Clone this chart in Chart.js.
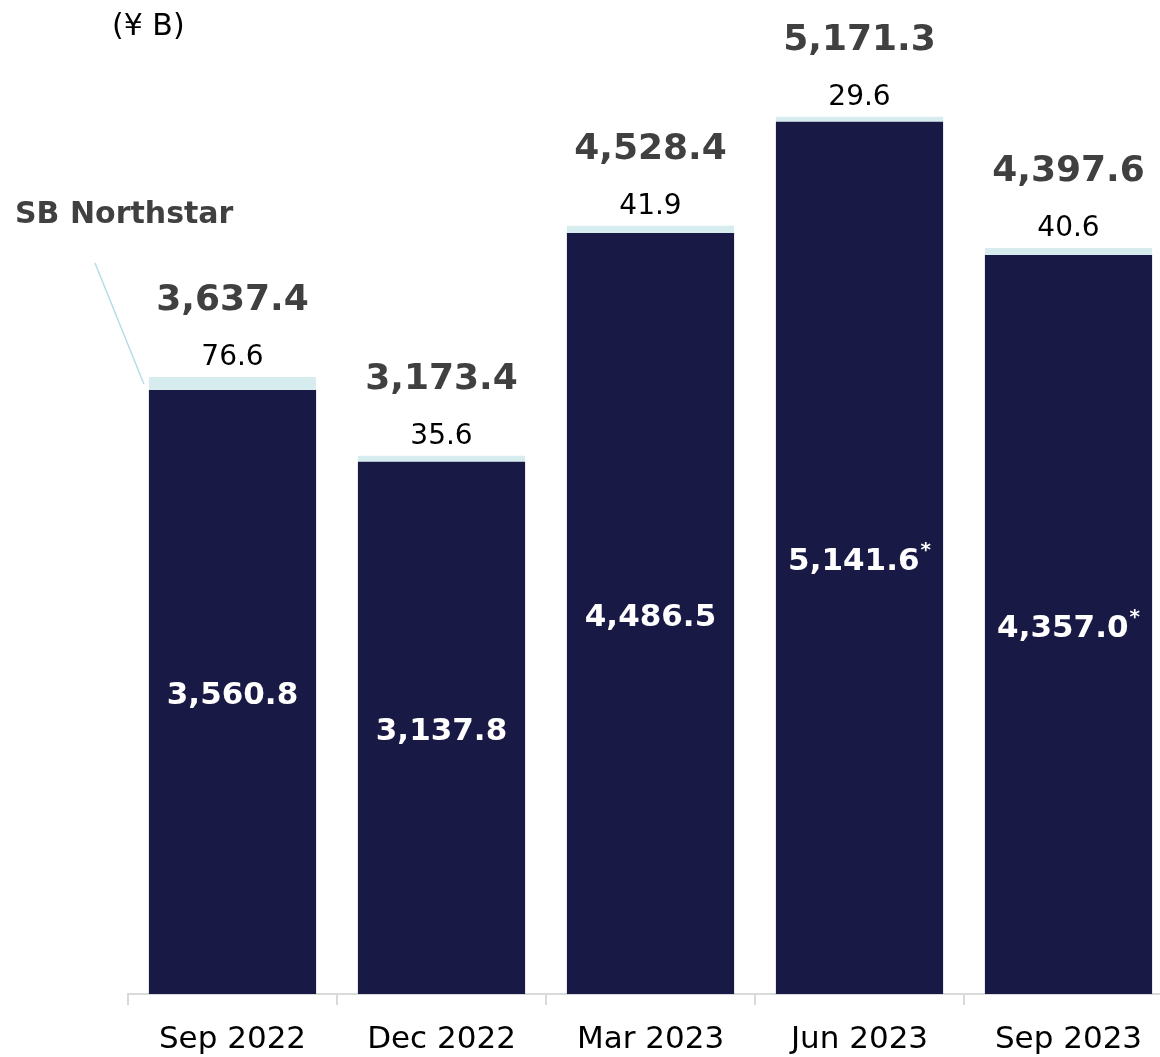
<!DOCTYPE html>
<html>
<head>
<meta charset="utf-8">
<script src="https://cdn.jsdelivr.net/npm/chart.js@4.4.0/dist/chart.umd.min.js"></script>
<style>
  html, body { margin: 0; padding: 0; background: #fff; overflow: hidden; }
  #wrap { position: relative; width: 1173px; height: 1057px; }
</style>
</head>
<body>
<div id="wrap"><canvas id="c" width="1173" height="1057"></canvas></div>
<script>
const categories = ['Sep 2022', 'Dec 2022', 'Mar 2023', 'Jun 2023', 'Sep 2023'];
const mainValues = [3560.8, 3137.8, 4486.5, 5141.6, 4357.0];
const northstarValues = [76.6, 35.6, 41.9, 29.6, 40.6];
const totalValues = [3637.4, 3173.4, 4528.4, 5171.3, 4397.6];
const mainNotes = ['', '', '', '*', '*'];
const unitLabel = '(¥ B)';
const seriesLabel = 'SB Northstar';

const FONT = '"DejaVu Sans", Verdana, sans-serif';
const DARK = '#191946';
const LIGHT = '#d6ecee';

function fmt(v) {
  return v.toLocaleString('en-US', { minimumFractionDigits: 1, maximumFractionDigits: 1 });
}

const labelPlugin = {
  id: 'labels',
  afterDatasetsDraw(chart) {
    const ctx = chart.ctx;
    const mainMeta = chart.getDatasetMeta(0);
    const nsMeta = chart.getDatasetMeta(1);
    ctx.save();
    ctx.textAlign = 'center';
    ctx.textBaseline = 'middle';
    categories.forEach((c, i) => {
      const mb = mainMeta.data[i];
      const nb = nsMeta.data[i];
      const x = mb.x;
      const top = nb.y;
      ctx.fillStyle = '#000';
      ctx.font = `28px ${FONT}`;
      ctx.fillText(fmt(northstarValues[i]), x, top - 19);
      ctx.fillStyle = '#404040';
      ctx.font = `bold 36px ${FONT}`;
      ctx.fillText(fmt(totalValues[i]), x, top - 76);
      const midY = (mb.y + mb.base) / 2 + 4;
      ctx.fillStyle = '#fff';
      ctx.font = `bold 31px ${FONT}`;
      const txt = fmt(mainValues[i]);
      const w = ctx.measureText(txt).width;
      let aw = 0;
      if (mainNotes[i]) {
        ctx.font = `bold 20px ${FONT}`;
        aw = ctx.measureText(mainNotes[i]).width + 1;
      }
      const startX = x - (w + aw) / 2;
      ctx.textAlign = 'left';
      ctx.font = `bold 31px ${FONT}`;
      ctx.fillText(txt, startX, midY);
      if (mainNotes[i]) {
        ctx.font = `bold 20px ${FONT}`;
        ctx.fillText(mainNotes[i], startX + w + 1, midY - 11);
      }
      ctx.textAlign = 'center';
    });
    ctx.fillStyle = '#000';
    ctx.font = `30px ${FONT}`;
    ctx.textAlign = 'left';
    ctx.fillText(unitLabel, 112, 27);
    ctx.fillStyle = '#404040';
    ctx.font = `bold 30px ${FONT}`;
    ctx.fillText(seriesLabel, 15, 215);
    const first = nsMeta.data[0];
    const leftEdge = first.x - first.width / 2;
    ctx.strokeStyle = '#b3dfe3';
    ctx.lineWidth = 1.5;
    ctx.beginPath();
    ctx.moveTo(95, 263);
    ctx.lineTo(leftEdge - 5, first.y + 7);
    ctx.stroke();
    ctx.restore();
  }
};

new Chart(document.getElementById('c'), {
  type: 'bar',
  data: {
    labels: categories,
    datasets: [
      { label: 'Main', data: mainValues, backgroundColor: DARK, borderWidth: 0, barPercentage: 0.8, categoryPercentage: 1.0 },
      { label: seriesLabel, data: northstarValues, backgroundColor: LIGHT, borderWidth: 0, barPercentage: 0.8, categoryPercentage: 1.0 }
    ]
  },
  options: {
    responsive: false,
    animation: false,
    events: [],
    layout: { padding: { left: 128, right: 0, top: 0, bottom: 0 } },
    plugins: { legend: { display: false }, tooltip: { enabled: false } },
    scales: {
      x: {
        stacked: true,
        offset: true,
        afterFit(scale) { scale.height = 63; },
        grid: { display: true, drawOnChartArea: false, drawTicks: true, tickLength: 11, color: '#d9d9d9', lineWidth: 2, offset: true },
        border: { display: true, color: '#d9d9d9', width: 2 },
        ticks: { color: '#000', font: { family: FONT, size: 31 }, padding: 16, maxRotation: 0, autoSkip: false }
      },
      y: {
        stacked: true,
        display: false,
        min: 0,
        max: 5860
      }
    }
  },
  plugins: [labelPlugin]
});
</script>
</body>
</html>
